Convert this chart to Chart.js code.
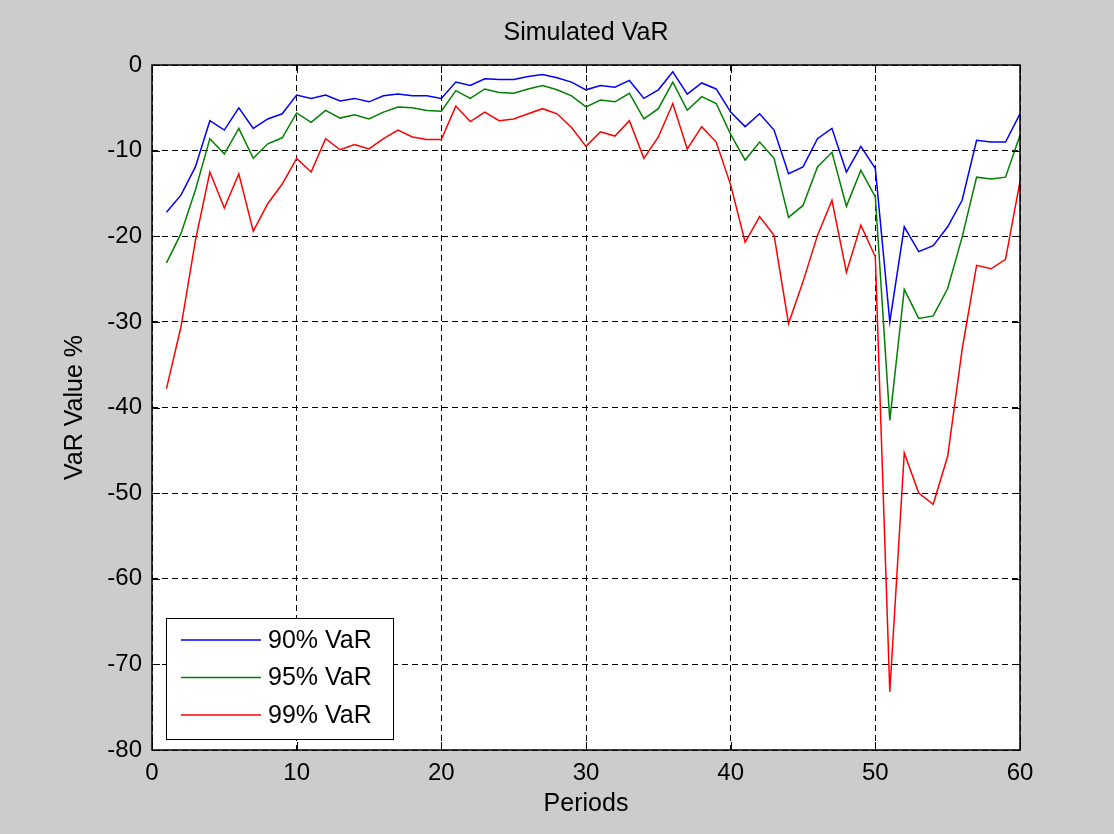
<!DOCTYPE html>
<html>
<head>
<meta charset="utf-8">
<title>Simulated VaR</title>
<script src="https://cdn.jsdelivr.net/npm/chart.js@4/dist/chart.umd.min.js"></script>
<style>
  html, body { margin: 0; padding: 0; background: #cccccc; }
  #wrap { width: 1114px; height: 834px; }
</style>
</head>
<body>
<div id="wrap"><canvas id="varChart" width="1114" height="834"></canvas></div>
<script>
// periods on the x axis
const periods = [1, 2, 3, 4, 5, 6, 7, 8, 9, 10, 11, 12, 13, 14, 15, 16, 17, 18, 19, 20,
  21, 22, 23, 24, 25, 26, 27, 28, 29, 30, 31, 32, 33, 34, 35, 36, 37, 38, 39, 40,
  41, 42, 43, 44, 45, 46, 47, 48, 49, 50, 51, 52, 53, 54, 55, 56, 57, 58, 59, 60];

// VaR values in %
const var90 = [-17.2, -15.2, -11.9, -6.5, -7.6, -5.0, -7.4, -6.3, -5.7, -3.5,
  -3.9, -3.5, -4.2, -3.9, -4.3, -3.6, -3.4, -3.6, -3.6, -3.9,
  -2.0, -2.4, -1.6, -1.7, -1.7, -1.35, -1.1, -1.5, -2.0, -2.9,
  -2.4, -2.6, -1.8, -3.9, -2.9, -0.8, -3.4, -2.1, -2.8, -5.5,
  -7.2, -5.7, -7.6, -12.7, -11.9, -8.6, -7.4, -12.5, -9.5, -12.1,
  -30.0, -18.9, -21.8, -21.1, -18.9, -15.8, -8.8, -9.0, -9.0, -5.7];

const var95 = [-23.1, -19.7, -14.6, -8.6, -10.4, -7.4, -10.9, -9.2, -8.5, -5.6,
  -6.7, -5.3, -6.2, -5.8, -6.3, -5.5, -4.9, -5.0, -5.3, -5.4,
  -3.0, -3.9, -2.8, -3.2, -3.3, -2.8, -2.4, -2.9, -3.6, -4.9,
  -4.1, -4.3, -3.3, -6.3, -5.1, -2.0, -5.3, -3.7, -4.5, -8.1,
  -11.1, -9.0, -10.9, -17.8, -16.4, -11.9, -10.2, -16.5, -12.3, -15.4,
  -41.5, -26.2, -29.6, -29.3, -26.1, -20.1, -13.1, -13.3, -13.1, -8.2];

const var99 = [-37.8, -30.6, -20.5, -12.5, -16.7, -12.7, -19.4, -16.2, -13.9, -10.9,
  -12.5, -8.6, -9.9, -9.3, -9.8, -8.6, -7.6, -8.4, -8.7, -8.7,
  -4.8, -6.6, -5.5, -6.5, -6.3, -5.7, -5.1, -5.7, -7.3, -9.5,
  -7.8, -8.3, -6.5, -10.9, -8.4, -4.5, -9.8, -7.2, -9.0, -14.0,
  -20.7, -17.7, -19.9, -30.2, -25.3, -19.9, -15.8, -24.2, -18.7, -22.4,
  -73.2, -45.3, -50.0, -51.3, -45.7, -33.2, -23.4, -23.8, -22.7, -13.6];

const seriesLabels = ['90% VaR', '95% VaR', '99% VaR'];
const seriesColors = ['#0000ff', '#008000', '#ff0000'];

const FONT = "'Liberation Sans', Arial, Helvetica, sans-serif";

function toPoints(values) {
  return periods.map((p, i) => ({ x: p, y: values[i] }));
}

// white plot background
const plotBackground = {
  id: 'plotBackground',
  beforeDraw(chart) {
    const { ctx, chartArea: a } = chart;
    ctx.save();
    ctx.fillStyle = '#ffffff';
    ctx.fillRect(a.left, a.top, a.right - a.left, a.bottom - a.top);
    ctx.restore();
  }
};

// matlab style box with inward tick marks
const axesBox = {
  id: 'axesBox',
  afterDatasetsDraw(chart) {
    const { ctx, chartArea: a, scales } = chart;
    const tickLen = 8;
    ctx.save();
    ctx.strokeStyle = '#000000';
    ctx.lineWidth = 1;
    ctx.beginPath();
    scales.x.ticks.forEach(t => {
      const px = Math.round(scales.x.getPixelForValue(t.value)) + 0.5;
      ctx.moveTo(px, a.bottom); ctx.lineTo(px, a.bottom - tickLen);
      ctx.moveTo(px, a.top); ctx.lineTo(px, a.top + tickLen);
    });
    scales.y.ticks.forEach(t => {
      const py = Math.round(scales.y.getPixelForValue(t.value)) + 0.5;
      ctx.moveTo(a.left, py); ctx.lineTo(a.left + tickLen, py);
      ctx.moveTo(a.right, py); ctx.lineTo(a.right - tickLen, py);
    });
    ctx.stroke();
    ctx.lineWidth = 1.5;
    ctx.strokeRect(a.left, a.top, a.right - a.left, a.bottom - a.top);
    ctx.restore();
  }
};

// boxed legend in lower left corner of the axes
const boxLegend = {
  id: 'boxLegend',
  afterDraw(chart) {
    const { ctx, chartArea: a } = chart;
    const w = 227, h = 121;
    const x0 = a.left + 14, y0 = a.bottom - 11 - h;
    ctx.save();
    ctx.fillStyle = '#ffffff';
    ctx.fillRect(x0, y0, w, h);
    ctx.strokeStyle = '#000000';
    ctx.lineWidth = 1;
    ctx.strokeRect(x0 + 0.5, y0 + 0.5, w, h);
    ctx.font = '25px ' + FONT;
    ctx.textBaseline = 'middle';
    ctx.fillStyle = '#000000';
    chart.data.datasets.forEach((ds, i) => {
      const y = y0 + 22 + i * 37.5;
      ctx.strokeStyle = ds.borderColor;
      ctx.lineWidth = 1.5;
      ctx.beginPath();
      ctx.moveTo(x0 + 15, y);
      ctx.lineTo(x0 + 95, y);
      ctx.stroke();
      ctx.fillText(ds.label, x0 + 102, y + 1);
    });
    ctx.restore();
  }
};

const ctx = document.getElementById('varChart').getContext('2d');
const chart = new Chart(ctx, {
  type: 'line',
  data: {
    datasets: [
      { label: seriesLabels[0], data: toPoints(var90), borderColor: seriesColors[0] },
      { label: seriesLabels[1], data: toPoints(var95), borderColor: seriesColors[1] },
      { label: seriesLabels[2], data: toPoints(var99), borderColor: seriesColors[2] }
    ]
  },
  options: {
    responsive: false,
    animation: false,
    layout: { padding: { left: 0, right: 94, top: 0, bottom: 0 } },
    elements: {
      line: { borderWidth: 1.5, tension: 0, fill: false },
      point: { radius: 0 }
    },
    plugins: {
      legend: { display: false },
      tooltip: { enabled: false },
      title: {
        display: true,
        fullSize: false,
        text: 'Simulated VaR',
        color: '#000000',
        font: { family: FONT, size: 25, weight: 'normal' },
        padding: { top: 18, bottom: 17 }
      }
    },
    scales: {
      x: {
        type: 'linear',
        min: 0,
        max: 60,
        ticks: { stepSize: 10, color: '#000000', padding: 9, font: { family: FONT, size: 24 } },
        grid: { color: '#000000', lineWidth: 1, drawTicks: false },
        border: { display: false, dash: [6, 4] },
        title: {
          display: true,
          text: 'Periods',
          color: '#000000',
          font: { family: FONT, size: 25 },
          padding: { top: 0, bottom: 15 }
        },
        afterFit(scale) { scale.height = 84; }
      },
      y: {
        type: 'linear',
        min: -80,
        max: 0,
        ticks: { stepSize: 10, color: '#000000', padding: 10, font: { family: FONT, size: 24 } },
        grid: { color: '#000000', lineWidth: 1, drawTicks: false },
        border: { display: false, dash: [6, 4] },
        title: {
          display: true,
          text: 'VaR Value %',
          color: '#000000',
          font: { family: FONT, size: 25 },
          padding: { top: 60, bottom: 0 }
        },
        afterFit(scale) { scale.width = 152; }
      }
    }
  },
  plugins: [plotBackground, axesBox, boxLegend]
});
</script>
</body>
</html>
